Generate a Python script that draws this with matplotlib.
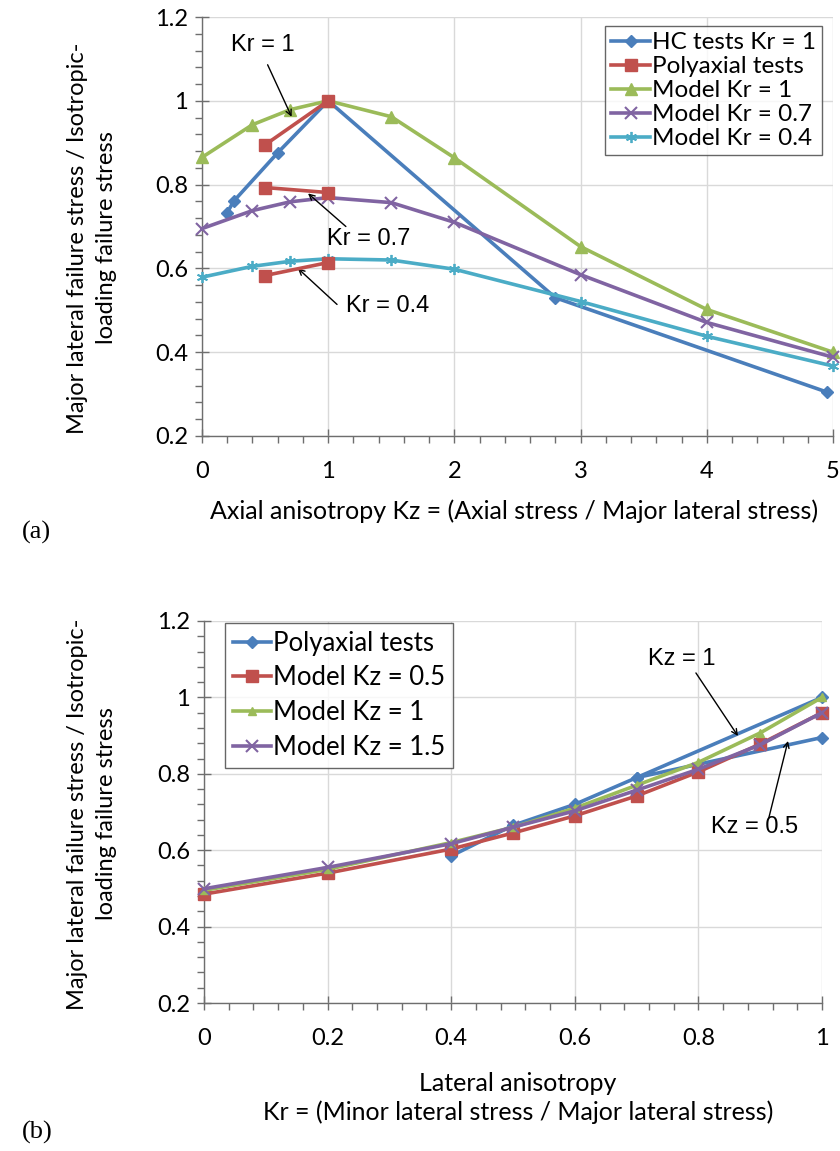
import numpy as np
import matplotlib
matplotlib.use('Agg')
import matplotlib.pyplot as plt
from matplotlib.ticker import MultipleLocator, FuncFormatter

plt.rcParams['font.family'] = ['Lato', 'DejaVu Sans']

# (a) axial anisotropy
kz_model = [0, 0.4, 0.7, 1, 1.5, 2, 3, 4, 5]
model_kr1 = [0.865, 0.943, 0.979, 1.0, 0.962, 0.864, 0.652, 0.502, 0.40]
model_kr07 = [0.695, 0.738, 0.759, 0.769, 0.757, 0.71, 0.585, 0.471, 0.388]
model_kr04 = [0.579, 0.605, 0.617, 0.623, 0.62, 0.598, 0.521, 0.438, 0.367]
hc_kz = [0.2, 0.25, 0.6, 1, 2.8, 4.95]
hc_val = [0.733, 0.76, 0.876, 1.0, 0.53, 0.305]
poly_kz = [0.5, 1, np.nan, 0.5, 1, np.nan, 0.5, 1]
poly_val = [0.895, 1.0, np.nan, 0.793, 0.781, np.nan, 0.583, 0.614]

# (b) lateral anisotropy
kr = [0, 0.2, 0.4, 0.5, 0.6, 0.7, 0.8, 0.9, 1.0]
model_kz05 = [0.485, 0.54, 0.603, 0.645, 0.69, 0.742, 0.805, 0.878, 0.96]
model_kz1 = [0.495, 0.55, 0.62, 0.66, 0.71, 0.77, 0.83, 0.907, 1.0]
model_kz15 = [0.499, 0.555, 0.617, 0.66, 0.703, 0.757, 0.812, 0.876, 0.96]
poly_kr = [0.4, 0.5, 0.6, 0.7, 1.0, np.nan, 0.7, 1.0]
poly_b = [0.585, 0.665, 0.72, 0.79, 1.0, np.nan, 0.79, 0.895]

blue = '#4A7EBB'
red = '#C0504D'
green = '#9BBB59'
purple = '#8064A2'
cyan = '#4BACC6'
axcol = '#6e6e6e'
star = (6, 2, 0)

fig = plt.figure(figsize=(8.4, 11.51), dpi=100)
W, H = 840, 1151
ax1 = fig.add_axes([202 / W, 1 - 436 / H, 631 / W, 419 / H])
ax2 = fig.add_axes([204 / W, 1 - 1003 / H, 618 / W, 382 / H])

fmt = FuncFormatter(lambda v, p: f'{v:g}')


def style(ax, xmaj, xmin):
    ax.set_ylim(0.2, 1.2)
    ax.yaxis.set_major_locator(MultipleLocator(0.2))
    ax.yaxis.set_minor_locator(MultipleLocator(0.04))
    ax.xaxis.set_major_locator(MultipleLocator(xmaj))
    ax.xaxis.set_minor_locator(MultipleLocator(xmin))
    ax.xaxis.set_major_formatter(fmt)
    ax.yaxis.set_major_formatter(fmt)
    ax.grid(True, which='major', color='#d9d9d9', lw=1)
    ax.set_axisbelow(True)
    for s in ['top', 'right']:
        ax.spines[s].set_visible(False)
    for s in ['left', 'bottom']:
        ax.spines[s].set_color(axcol)
        ax.spines[s].set_linewidth(1)
    ax.tick_params(which='major', direction='inout', length=10, width=1,
                   color=axcol, labelsize=17)
    ax.tick_params(axis='y', which='major', pad=5)
    ax.tick_params(axis='x', which='major', pad=13)
    ax.tick_params(which='minor', direction='out', length=5, width=1, color=axcol)


lw = 2.6
ax1.plot(hc_kz, hc_val, color=blue, lw=lw, marker='D', ms=6, label='HC tests Kr = 1', clip_on=False, zorder=3)
ax1.plot(poly_kz, poly_val, color=red, lw=lw, marker='s', ms=9, label='Polyaxial tests', zorder=4)
ax1.plot(kz_model, model_kr1, color=green, lw=lw, marker='^', ms=9, label='Model Kr = 1', clip_on=False, zorder=3)
ax1.plot(kz_model, model_kr07, color=purple, lw=lw, marker='x', ms=8, mew=1.5, label='Model Kr = 0.7', clip_on=False, zorder=3)
ax1.plot(kz_model, model_kr04, color=cyan, lw=lw, marker=star, ms=8, mew=1.3, label='Model Kr = 0.4', clip_on=False, zorder=3)
ax1.set_xlim(0, 5)
style(ax1, 1, 0.2)
leg = ax1.legend(loc='upper right', bbox_to_anchor=(0.982, 0.978), fontsize=17.5, frameon=True,
                 fancybox=False, edgecolor='#404040', handlelength=1.6, handletextpad=0.05,
                 labelspacing=0.12, borderpad=0.25, borderaxespad=0)
leg.get_frame().set_linewidth(1)

ann = dict(fontsize=17, family=['Liberation Sans', 'DejaVu Sans'], ha='center', va='center')
arrow = dict(arrowstyle='->', color='black', lw=1, shrinkA=0, shrinkB=0)
ax1.text(0.48, 1.133, 'Kr = 1', **ann)
ax1.annotate('', xy=(0.71, 0.962), xytext=(0.52, 1.086), arrowprops=arrow)
ax1.text(1.32, 0.669, 'Kr = 0.7', **ann)
ax1.annotate('', xy=(0.84, 0.779), xytext=(1.14, 0.70), arrowprops=arrow)
ax1.text(1.47, 0.51, 'Kr = 0.4', **ann)
ax1.annotate('', xy=(0.76, 0.60), xytext=(1.07, 0.514), arrowprops=arrow)

ax2.plot(poly_kr, poly_b, color=blue, lw=lw, marker='D', ms=6, label='Polyaxial tests', clip_on=False, zorder=3)
ax2.plot(kr, model_kz05, color=red, lw=lw, marker='s', ms=9, label='Model Kz = 0.5', clip_on=False, zorder=3)
ax2.plot(kr, model_kz1, color=green, lw=lw, marker='^', ms=6, label='Model Kz = 1', clip_on=False, zorder=3)
ax2.plot(kr, model_kz15, color=purple, lw=lw, marker='x', ms=8, mew=1.5, label='Model Kz = 1.5', clip_on=False, zorder=3)
ax2.set_xlim(0, 1)
style(ax2, 0.2, 0.04)
leg2 = ax2.legend(loc='upper left', bbox_to_anchor=(0.034, 0.995), fontsize=18.5, frameon=True,
                  fancybox=False, edgecolor='#404040', handlelength=1.5, handletextpad=0.05,
                  labelspacing=0.38, borderpad=0.3, borderaxespad=0)
leg2.get_frame().set_linewidth(1)

ax2.text(0.773, 1.101, 'Kz = 1', **ann)
ax2.annotate('', xy=(0.864, 0.899), xytext=(0.796, 1.064), arrowprops=arrow)
ax2.text(0.891, 0.66, 'Kz = 0.5', bbox=dict(facecolor='white', edgecolor='none', pad=1), **ann)
ax2.annotate('', xy=(0.945, 0.886), xytext=(0.914, 0.685), arrowprops=arrow)

ylab = 'Major lateral failure stress / Isotropic-\nloading failure stress'
fig.text(92 / W, 1 - 238 / H, ylab, rotation=90, ha='center', va='center', fontsize=17, linespacing=1.45)
fig.text(92 / W, 1 - 814 / H, ylab, rotation=90, ha='center', va='center', fontsize=17, linespacing=1.45)
fig.text(514 / W, 1 - 511 / H, 'Axial anisotropy Kz = (Axial stress / Major lateral stress)',
         ha='center', va='center', fontsize=18)
fig.text(518 / W, 1 - 1098 / H, 'Lateral anisotropy\nKr = (Minor lateral stress / Major lateral stress)',
         ha='center', va='center', fontsize=18, linespacing=1.3)
serif = ['Liberation Serif', 'DejaVu Serif']
fig.text(22 / W, 1 - 532 / H, '(a)', family=serif, fontsize=19, ha='left', va='center')
fig.text(22 / W, 1 - 1132 / H, '(b)', family=serif, fontsize=19, ha='left', va='center')

fig.savefig('out.png', dpi=100)
